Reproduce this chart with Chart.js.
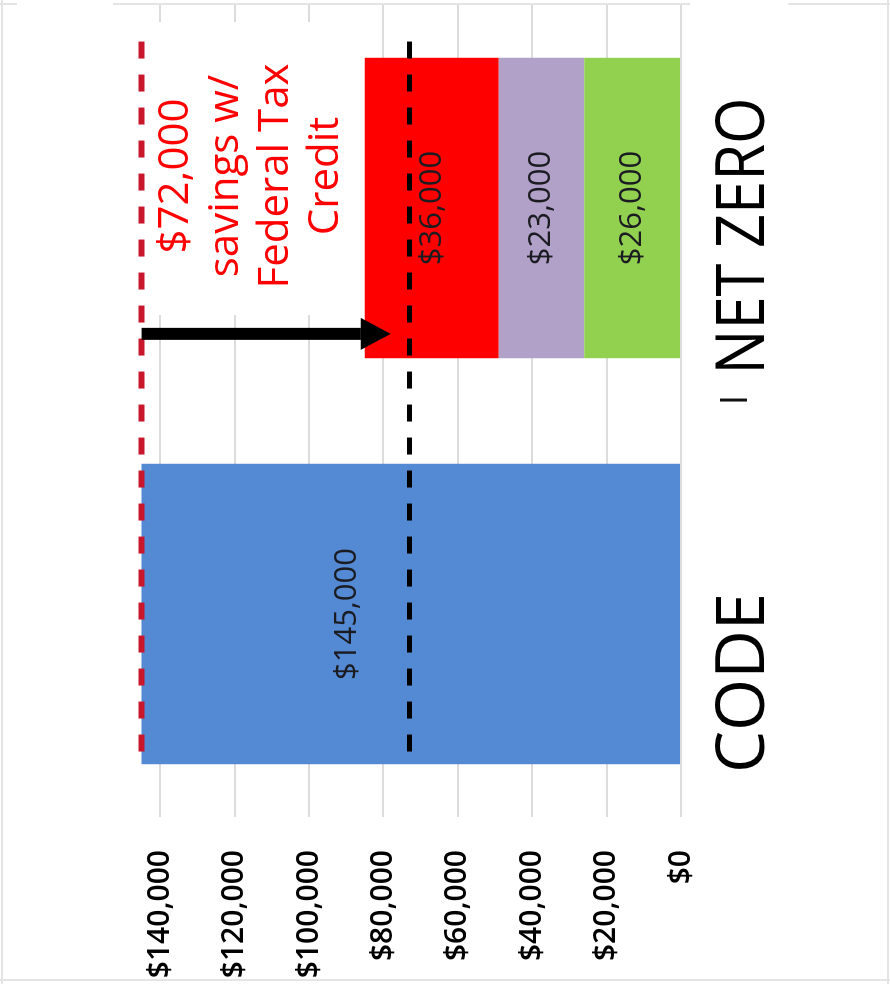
<!DOCTYPE html>
<html>
<head>
<meta charset="utf-8">
<title>Code vs Net Zero cost</title>
<script src="https://cdn.jsdelivr.net/npm/chart.js@4.4.1/dist/chart.umd.min.js"></script>
<style>
  html, body { margin: 0; padding: 0; background: #fff; overflow: hidden; }
  /* chart is laid out upright, then turned a quarter turn to the left */
  #wrap {
    position: absolute; left: 0; top: 0;
    width: 984px; height: 890px;
    transform-origin: 0 0;
    transform: translateY(984px) rotate(-90deg);
  }
</style>
</head>
<body>
<div id="wrap"><canvas id="costChart" width="984" height="890"></canvas></div>
<script>
// categories and the cost pieces of each stack
const categories = ["CODE", "NET ZERO"];
const codeCost = [145000, null];
const greenCost = [null, 26000];
const purpleCost = [null, 23000];
const redCost = [null, 36000];

// value axis ticks
const yTicks = [0, 20000, 40000, 60000, 80000, 100000, 120000, 140000];
const yMax = 150000;

// savings note
const taxCreditSavings = 72000;
const noteLines = ["$72,000", "savings w/", "Federal Tax", "Credit"];

const money = v => "$" + Number(v).toLocaleString("en-US");
const FONT = "'Open Sans', 'Noto Sans', sans-serif";

// faint outer frame
const frame = {
  id: "frame",
  beforeDraw(chart) {
    const ctx = chart.ctx;
    ctx.save();
    ctx.strokeStyle = "#e4e4e4";
    ctx.lineWidth = 2;
    ctx.beginPath();
    ctx.moveTo(0, 2); ctx.lineTo(984, 2);       // left edge
    ctx.moveTo(0, 888); ctx.lineTo(984, 888);   // right edge
    ctx.moveTo(4, 0); ctx.lineTo(4, 890);       // bottom edge
    [[0, 17], [113, 690], [788, 890]].forEach(([a, b]) => {
      ctx.moveTo(980, a); ctx.lineTo(980, b);   // top edge, broken by text boxes
    });
    ctx.stroke();
    ctx.restore();
  }
};

// white box under the savings note
const noteBox = {
  id: "noteBox",
  beforeDatasetsDraw(chart) {
    const { ctx, chartArea } = chart;
    ctx.save();
    ctx.fillStyle = "#fff";
    ctx.fillRect(chartArea.right - 310, 118, 293, 237);
    ctx.restore();
  }
};

// value labels, category labels, reference lines, arrow and note
const overlay = {
  id: "overlay",
  afterDatasetsDraw(chart) {
    const { ctx, chartArea, scales } = chart;
    const xs = scales.x, ys = scales.y;
    ctx.save();

    // value labels inside the bars
    ctx.font = "31px " + FONT;
    ctx.fillStyle = "#1b1b22";
    ctx.textAlign = "center";
    ctx.textBaseline = "middle";
    chart.data.datasets.forEach((ds, i) => {
      chart.getDatasetMeta(i).data.forEach((bar, j) => {
        const v = ds.data[j];
        if (v == null) return;
        const mid = (bar.y + bar.base) / 2 + (ds.labelShift || 0);
        ctx.fillText(money(v), bar.x, mid);
      });
    });

    // category names
    const catShift = [-69, -28];
    const catWidth = [185, 277];
    ctx.font = "67px " + FONT;
    ctx.fillStyle = "#000";
    ctx.textBaseline = "alphabetic";
    categories.forEach((c, i) => {
      ctx.fillText(c, xs.getPixelForValue(i) + catShift[i], chartArea.bottom + 83, catWidth[i]);
    });
    ctx.lineWidth = 3;
    ctx.strokeStyle = "#111";
    ctx.beginPath();
    ctx.moveTo(xs.getPixelForValue(0.527), chartArea.bottom + 39);
    ctx.lineTo(xs.getPixelForValue(0.527), chartArea.bottom + 66);
    ctx.stroke();

    // dashed reference lines: code cost and cost after the credit
    const lineFrom = xs.getPixelForValue(1.41);
    const lineTo = xs.getPixelForValue(-0.34);
    const dashed = (value, color, width) => {
      const p = ys.getPixelForValue(value);
      ctx.strokeStyle = color;
      ctx.lineWidth = width;
      ctx.setLineDash([17, 16]);
      ctx.beginPath();
      ctx.moveTo(lineFrom, p);
      ctx.lineTo(lineTo, p);
      ctx.stroke();
    };
    dashed(codeCost[0], "#c8162c", 6);
    dashed(codeCost[0] - taxCreditSavings, "#000", 5);
    ctx.setLineDash([]);

    // arrow from code cost down toward the credited cost
    const ax = xs.getPixelForValue(0.69);
    const a0 = ys.getPixelForValue(codeCost[0]);
    const tip = ys.getPixelForValue(78000);
    ctx.fillStyle = "#000";
    ctx.fillRect(ax - 6, a0, 12, tip - 30 - a0);
    ctx.beginPath();
    ctx.moveTo(ax - 16, tip - 30);
    ctx.lineTo(ax + 16, tip - 30);
    ctx.lineTo(ax, tip);
    ctx.closePath();
    ctx.fill();

    // savings note
    ctx.font = "42px " + FONT;
    ctx.fillStyle = "#ff0000";
    ctx.textAlign = "center";
    const noteX = xs.getPixelForValue(1) + 32;
    noteLines.forEach((t, i) => {
      ctx.fillText(t, noteX, chartArea.top + 65 + i * 50);
    });

    ctx.restore();
  }
};

new Chart(document.getElementById("costChart"), {
  type: "bar",
  data: {
    labels: categories,
    datasets: [
      { data: codeCost, backgroundColor: "#548ad4", labelShift: -64 },
      { data: greenCost, backgroundColor: "#92d050" },
      { data: purpleCost, backgroundColor: "#b1a0c7" },
      { data: redCost, backgroundColor: "#ff0000" }
    ]
  },
  options: {
    responsive: false,
    animation: false,
    devicePixelRatio: 1,
    layout: { padding: { top: 123, right: 5, left: 0, bottom: 0 } },
    datasets: { bar: { categoryPercentage: 1, barPercentage: 0.74 } },
    plugins: { legend: { display: false }, tooltip: { enabled: false } },
    scales: {
      x: {
        stacked: true,
        grid: { display: false },
        border: { display: false },
        ticks: { display: false },
        afterFit: s => { s.height = 209; }
      },
      y: {
        stacked: true,
        min: 0,
        max: yMax,
        border: { display: false },
        grid: { color: "#dcdcdc", lineWidth: 2, drawTicks: false },
        afterBuildTicks: s => { s.ticks = yTicks.map(v => ({ value: v })); },
        afterFit: s => { s.width = 167; },
        ticks: {
          padding: 33,
          color: "#000",
          font: { family: FONT, size: 30, weight: 600 },
          callback: v => money(v)
        }
      }
    }
  },
  plugins: [frame, noteBox, overlay]
});
</script>
</body>
</html>
